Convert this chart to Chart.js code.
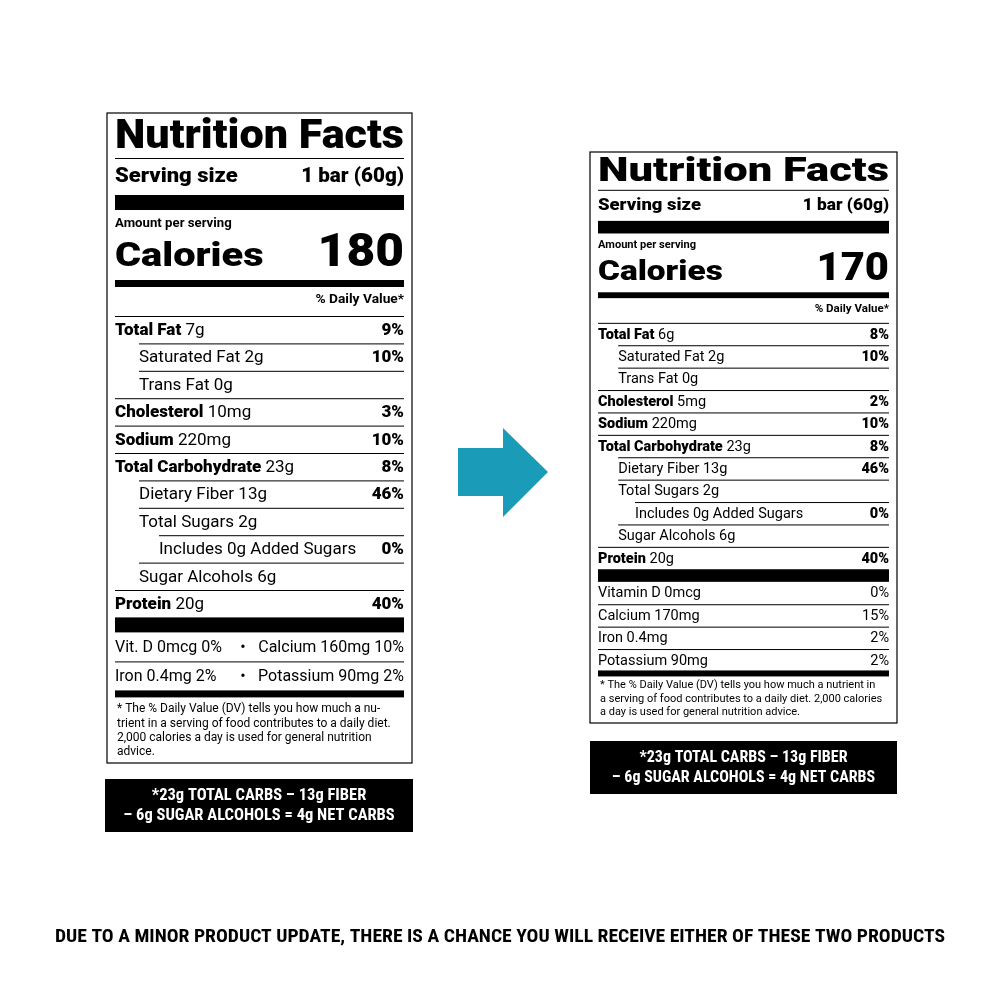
<!DOCTYPE html>
<html><head><meta charset="utf-8">
<script src="https://cdn.jsdelivr.net/npm/chart.js@4.4.0/dist/chart.umd.min.js"></script>
<style>html,body{margin:0;background:#fff}canvas{display:block}</style>
</head><body>
<canvas id="c" width="1000" height="1000"></canvas>
<script>
// label contents: [name, amount, %DV, indent level]
const leftRows = [
  ['Total Fat', '7g', '9%', 0], ['Saturated Fat', '2g', '10%', 1], ['Trans Fat', '0g', '', 1],
  ['Cholesterol', '10mg', '3%', 0], ['Sodium', '220mg', '10%', 0], ['Total Carbohydrate', '23g', '8%', 0],
  ['Dietary Fiber', '13g', '46%', 1], ['Total Sugars', '2g', '', 1], ['Includes 0g Added Sugars', '', '0%', 2],
  ['Sugar Alcohols', '6g', '', 1], ['Protein', '20g', '40%', 0]
];
const leftMinerals = [['Vit. D 0mcg 0%', 'Calcium 160mg 10%'], ['Iron 0.4mg 2%', 'Potassium 90mg 2%']];
const rightRows = [
  ['Total Fat', '6g', '8%', 0], ['Saturated Fat', '2g', '10%', 1], ['Trans Fat', '0g', '', 1],
  ['Cholesterol', '5mg', '2%', 0], ['Sodium', '220mg', '10%', 0], ['Total Carbohydrate', '23g', '8%', 0],
  ['Dietary Fiber', '13g', '46%', 1], ['Total Sugars', '2g', '', 1], ['Includes 0g Added Sugars', '', '0%', 2],
  ['Sugar Alcohols', '6g', '', 1], ['Protein', '20g', '40%', 0]
];
const rightMinerals = [['Vitamin D 0mcg', '0%'], ['Calcium 170mg', '15%'], ['Iron 0.4mg', '2%'], ['Potassium 90mg', '2%']];
const calories = ['180', '170'];
const leftNote = ['* The % Daily Value (DV) tells you how much a nu-', 'trient in a serving of food contributes to a daily diet.', '2,000 calories a day is used for general nutrition', 'advice.'];
const rightNote = ['* The % Daily Value (DV) tells you how much a nutrient in', 'a serving of food contributes to a daily diet. 2,000 calories', 'a day is used for general nutrition advice.'];
const netCarbs = ['*23g TOTAL CARBS – 13g FIBER', '– 6g SUGAR ALCOHOLS = 4g NET CARBS'];
const footer = 'DUE TO A MINOR PRODUCT UPDATE, THERE IS A CHANCE YOU WILL RECEIVE EITHER OF THESE TWO PRODUCTS';

const HEAVY = '900 ', F = 'Roboto, "Liberation Sans", sans-serif';
const NARROW = '"Liberation Sans Narrow", "Roboto Condensed", ' + F;

// draw text stretched horizontally by sx (or to an exact width if w given)
function wide(ctx, t, x, y, sx, w) {
  const m = ctx.measureText(t).width;
  if (w) sx = w / m;
  ctx.save();
  ctx.translate(x, y); ctx.scale(sx, 1);
  ctx.fillText(t, 0, 0);
  ctx.restore();
}

function drawLabel(ctx, L, rows, cal) {
  const a = L.x0 + 8, b = L.x1 - 8, s = L.s;
  ctx.strokeStyle = '#000'; ctx.lineWidth = 1.2;
  ctx.strokeRect(L.x0, L.y0, L.x1 - L.x0, L.y1 - L.y0);
  const hl = (y, x) => { ctx.fillRect(x || a, y, b - (x || a), 1); };
  const bar = (y, h) => ctx.fillRect(a, y, b - a, h);
  ctx.fillStyle = '#000'; ctx.textBaseline = 'middle';
  ctx.textAlign = 'left';
  ctx.font = HEAVY + (40 * s) + 'px ' + F;
  wide(ctx, 'Nutrition Facts', a, L.y0 + 25 * s, 1, b - a);
  hl(L.y0 + 45 * s);
  ctx.font = HEAVY + (20 * s) + 'px ' + F;
  wide(ctx, 'Serving size', a, L.y0 + 64 * s, 1.1);
  ctx.textAlign = 'right'; wide(ctx, '1 bar (60g)', b, L.y0 + 64 * s, 1.03); ctx.textAlign = 'left';
  bar(L.y0 + 82 * s, 15 * s);
  ctx.font = '700 ' + (12 * s) + 'px ' + F;
  wide(ctx, 'Amount per serving', a, L.y0 + 111 * s, 1.1);
  ctx.font = HEAVY + (34 * s) + 'px ' + F;
  wide(ctx, 'Calories', a, L.y0 + 144 * s, 1.17);
  ctx.textAlign = 'right'; ctx.font = HEAVY + (46 * s) + 'px ' + F;
  wide(ctx, cal, b, L.y0 + 141 * s, 1.08);
  bar(L.y0 + 167 * s, 7 * s);
  ctx.font = '700 ' + (12.5 * s) + 'px ' + F;
  wide(ctx, '% Daily Value*', b, L.y0 + 187 * s, 1.1);
  let y = L.y0 + 201 * s + L.dy;
  const step = L.step;
  rows.forEach((r, i) => {
    const x = a + (r[3] === 0 ? 0 : r[3] === 1 ? 24 * s : 44 * s);
    hl(y, i === 0 ? a : x);
    const cy = y + step / 2 + 1;
    ctx.textAlign = 'left';
    ctx.font = (r[3] === 0 ? HEAVY : '400 ') + L.fs + 'px ' + F;
    ctx.fillText(r[0], x, cy);
    let w = ctx.measureText(r[0] + ' ').width;
    ctx.font = '400 ' + L.fs + 'px ' + F;
    if (r[1]) ctx.fillText(r[1], x + w, cy);
    ctx.textAlign = 'right'; ctx.font = HEAVY + L.fs + 'px ' + F;
    if (r[2]) ctx.fillText(r[2], b, cy);
    y += step;
  });
  bar(y, 15 * s); y += 15 * s;
  return { y: y, a: a, b: b };
}

function drawNote(ctx, a, y, lines, size, lh) {
  ctx.textAlign = 'left'; ctx.font = '400 ' + size + 'px ' + F;
  lines.forEach((t, i) => ctx.fillText(t, a, y + i * lh));
}

function drawBox(ctx, x0, x1, y0, y1, size) {
  ctx.fillStyle = '#000'; ctx.fillRect(x0, y0, x1 - x0, y1 - y0);
  ctx.fillStyle = '#fff'; ctx.textAlign = 'center';
  ctx.font = '700 ' + size + 'px ' + NARROW;
  const c = (y0 + y1) / 2;
  ctx.fillText(netCarbs[0], (x0 + x1) / 2, c - 10);
  ctx.fillText(netCarbs[1], (x0 + x1) / 2, c + 10);
  ctx.fillStyle = '#000';
}

const labelPlugin = {
  id: 'labels',
  afterDraw(chart) {
    const ctx = chart.ctx;
    ctx.save();
    // left label
    let r = drawLabel(ctx, { x0: 107, x1: 412, y0: 113, y1: 763, s: 1, dy: 2, step: 27.4, fs: 17 }, leftRows, calories[0]);
    let y = r.y;
    leftMinerals.forEach((m, i) => {
      const cy = y + 16;
      ctx.font = '400 16px ' + F;
      ctx.textAlign = 'left'; ctx.fillText(m[0], r.a, cy);
      ctx.textAlign = 'center'; ctx.fillText('•', 243, cy);
      ctx.textAlign = 'right'; ctx.fillText(m[1], r.b, cy);
      y += 29;
      if (i === 0) ctx.fillRect(r.a, y, r.b - r.a, 1);
    });
    ctx.fillRect(r.a, y, r.b - r.a, 7);
    drawNote(ctx, r.a + 2, y + 19, leftNote, 12, 14.3);
    drawBox(ctx, 105, 413, 779, 832, 16.5);

    // right label
    r = drawLabel(ctx, { x0: 590, x1: 897, y0: 152, y1: 723, s: 0.84, dy: 2, step: 22.4, fs: 14.5 }, rightRows, calories[1]);
    y = r.y;
    rightMinerals.forEach((m, i) => {
      if (i > 0) ctx.fillRect(r.a, y, r.b - r.a, 1);
      const cy = y + 12;
      ctx.font = '400 14.5px ' + F;
      ctx.textAlign = 'left'; ctx.fillText(m[0], r.a, cy);
      ctx.textAlign = 'right'; ctx.fillText(m[1], r.b, cy);
      y += 22.4;
    });
    ctx.fillRect(r.a, y - 1, r.b - r.a, 6);
    drawNote(ctx, r.a + 2, y + 14, rightNote, 11, 13.5);
    drawBox(ctx, 590, 897, 741, 794, 16);

    // arrow
    ctx.fillStyle = '#1a9bb7';
    ctx.beginPath();
    ctx.moveTo(458, 448); ctx.lineTo(503, 448); ctx.lineTo(503, 428); ctx.lineTo(548, 472);
    ctx.lineTo(503, 517); ctx.lineTo(503, 496); ctx.lineTo(458, 496); ctx.closePath(); ctx.fill();

    // footer
    ctx.fillStyle = '#000'; ctx.textAlign = 'left';
    ctx.font = '700 19px ' + NARROW;
    wide(ctx, footer, 55, 937, 1, 890);
    ctx.restore();
  }
};

new Chart(document.getElementById('c'), {
  type: 'bar',
  data: { labels: [], datasets: [{ data: [] }] },
  options: {
    responsive: false, animation: false, devicePixelRatio: 1,
    plugins: { legend: { display: false }, tooltip: { enabled: false } },
    scales: { x: { display: false }, y: { display: false } }
  },
  plugins: [labelPlugin]
});
</script>
</body></html>
